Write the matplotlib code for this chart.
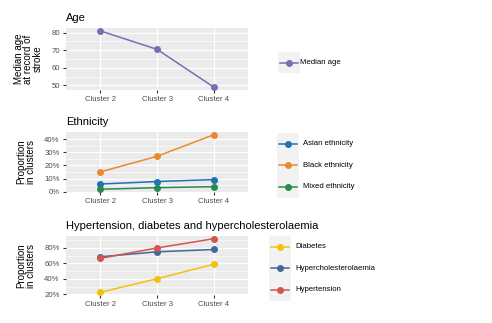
import numpy as np
from matplotlib import pyplot as plt
from matplotlib.patches import Rectangle
from matplotlib.ticker import FuncFormatter

plt.rcParams['font.family'] = ['Liberation Sans', 'DejaVu Sans']

clusters = ["Cluster 2", "Cluster 3", "Cluster 4"]

median_age = [81, 70.5, 49]

asian = [5.8, 7.7, 9.2]
black = [15.0, 27.0, 43.5]
mixed = [1.8, 3.0, 3.8]

diabetes = [22.5, 40.0, 59.0]
hyperchol = [68.5, 75.0, 78.0]
hypertension = [66.5, 80.0, 92.0]

fig = plt.figure(figsize=(4.92, 3.23), dpi=100)
W, H = 492.0, 323.0

def px_axes(x0, y0, x1, y1):  # pixel box -> axes
    return fig.add_axes([x0 / W, 1 - y1 / H, (x1 - x0) / W, (y1 - y0) / H])

def style(ax, title, ylabel, major, minor, pct):
    ax.set_facecolor("#EBEBEB")
    for s in ax.spines.values():
        s.set_visible(False)
    ax.set_xlim(0.4, 3.6)
    ax.set_xticks([1, 2, 3])
    ax.set_xticklabels(clusters)
    ax.set_yticks(major)
    ax.set_yticks(minor, minor=True)
    if pct:
        ax.yaxis.set_major_formatter(FuncFormatter(lambda v, p: "%d%%" % v))
    ax.grid(True, which="major", color="white", linewidth=0.9)
    ax.grid(True, which="minor", axis="y", color="white", linewidth=0.45)
    ax.set_axisbelow(True)
    ax.tick_params(which="major", length=2.5, width=0.8, color="#333333",
                   labelsize=5.6, labelcolor="#4D4D4D", pad=2)
    ax.tick_params(which="minor", length=0)
    ax.set_title(title, loc="left", fontsize=8, pad=5, color="black")
    ax.set_ylabel(ylabel, fontsize=7, linespacing=0.95, labelpad=6)

def draw(ax, series, colors):
    x = np.arange(1, len(clusters) + 1)
    handles = []
    for vals, c in zip(series, colors):
        h, = ax.plot(x, vals, color=c, linewidth=1.1, marker="o", markersize=4)
        handles.append(h)
    return handles

def legend(handles, names, x0, ytop, step, toff):
    n = len(names)
    fig.patches.append(Rectangle((x0 / W, 1 - (ytop + step * n) / H), 22 / W, (step * n) / H,
                                 transform=fig.transFigure, facecolor="#F2F2F2",
                                 edgecolor="none", zorder=0))
    for i, (h, nm) in enumerate(zip(handles, names)):
        yc = 1 - (ytop + step * (i + 0.5)) / H
        fig.lines.append(plt.Line2D([(x0 + 2) / W, (x0 + 20) / W], [yc, yc],
                                    transform=fig.transFigure, color=h.get_color(),
                                    linewidth=1.1))
        fig.lines.append(plt.Line2D([(x0 + 11) / W], [yc], transform=fig.transFigure,
                                    color=h.get_color(), marker="o", markersize=4))
        fig.text((x0 + toff) / W, yc, nm, fontsize=5.6, color="black", va="center")

# Age
ax1 = px_axes(66, 28, 248, 90)
style(ax1, "Age", "Median age\nat record of\nstroke", [50, 60, 70, 80], [55, 65, 75], False)
h1 = draw(ax1, [median_age], ["#7570B3"])
ax1.set_ylim(47.4, 82.6)
legend(h1, ["Median age"], 278, 52, 21, 22)

# Ethnicity
ax2 = px_axes(66, 132, 248, 192)
style(ax2, "Ethnicity", "Proportion\nin clusters", [0, 10, 20, 30, 40], [5, 15, 25, 35], True)
eth_names = ["Asian ethnicity", "Black ethnicity", "Mixed ethnicity"]
h2 = draw(ax2, [asian, black, mixed], ["#1F72B6", "#EB8A2C", "#2A8A4E"])
ax2.set_ylim(-0.3, 45.6)
legend(h2, eth_names, 277, 133, 21.5, 26)

# Hypertension, diabetes, hypercholesterolaemia
ax3 = px_axes(66, 236, 248, 295)
style(ax3, "Hypertension, diabetes and hypercholesterolaemia", "Proportion\nin clusters",
      [20, 40, 60, 80], [30, 50, 70, 90], True)
hd_names = ["Diabetes", "Hypercholesterolaemia", "Hypertension"]
h3 = draw(ax3, [diabetes, hyperchol, hypertension], ["#F2C10F", "#46679A", "#D45550"])
ax3.set_ylim(19.0, 95.5)
legend(h3, hd_names, 269, 236, 21.5, 26)

fig.savefig("out.png", dpi=100)
